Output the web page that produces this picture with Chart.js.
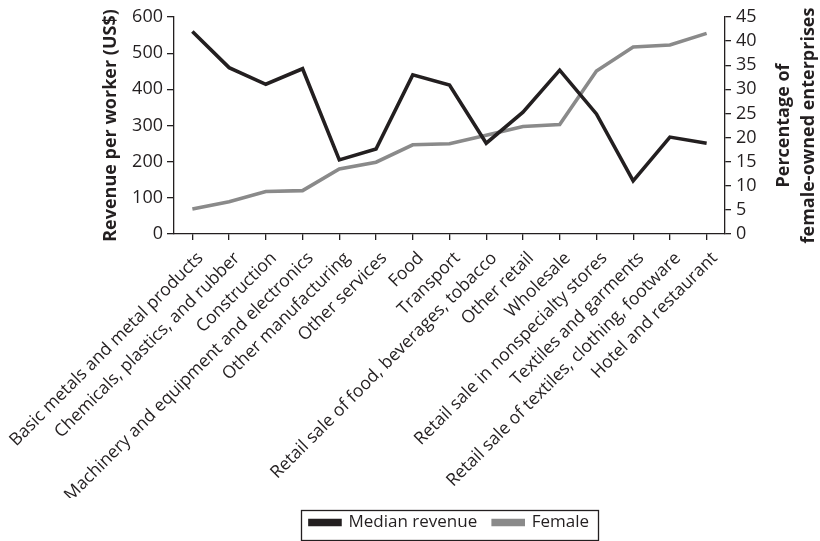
<!DOCTYPE html>
<html>
<head>
<meta charset="utf-8">
<script src="https://cdn.jsdelivr.net/npm/chart.js@4"></script>
<style>
  html,body{margin:0;padding:0;background:#fff}
  #wrap{width:820px;height:541px}
</style>
</head>
<body>
<div id="wrap"><canvas id="chart" width="820" height="541"></canvas></div>
<script>
const categories=['Basic metals and metal products','Chemicals, plastics, and rubber','Construction','Machinery and equipment and electronics','Other manufacturing','Other services','Food','Transport','Retail sale of food, beverages, tobacco','Other retail','Wholesale','Retail sale in nonspecialty stores','Textiles and garments','Retail sale of textiles, clothing, footware','Hotel and restaurant'];
const medianRevenue=[560,460,414,457,205,235,440,412,251,337,453,332,147,268,251];
const femaleShare=[5.2,6.7,8.8,9.0,13.5,14.9,18.5,18.7,20.5,22.3,22.7,33.8,38.8,39.2,41.6];
const leftTitle='Revenue per worker (US$)';
const rightTitle=['Percentage of','female-owned enterprises'];
const seriesNames=['Median revenue','Female'];

const ink='#231f20', grey='#8a8a8a';
const FONT='"Open Sans", "Noto Sans", sans-serif';

// right axis title reads bottom-to-top, and the legend gets a frame
const extras={
  id:'extras',
  afterDraw(chart){
    const ctx=chart.ctx, area=chart.chartArea, r=chart.scales.yRight;
    ctx.save();
    ctx.fillStyle=ink;
    ctx.font='bold 18px '+FONT;
    ctx.textAlign='center';ctx.textBaseline='middle';
    const cy=(area.top+area.bottom)/2;
    rightTitle.forEach((line,i)=>{
      ctx.save();
      ctx.translate(r.right-36+i*25,cy);
      ctx.rotate(-Math.PI/2);
      ctx.fillText(line,0,0);
      ctx.restore();
    });
    const boxes=chart.legend.legendHitBoxes;
    if(boxes&&boxes.length){
      const l=Math.min(...boxes.map(b=>b.left)), rr=Math.max(...boxes.map(b=>b.left+b.width));
      const t=Math.min(...boxes.map(b=>b.top)), bt=Math.max(...boxes.map(b=>b.top+b.height));
      ctx.strokeStyle=ink;ctx.lineWidth=1.3;
      ctx.strokeRect(Math.round(l-9)+0.5,Math.round(t-4)+0.5,Math.round(rr-l+18),Math.round(bt-t+13));
    }
    ctx.restore();
  }
};

new Chart(document.getElementById('chart'),{
  type:'line',
  data:{
    labels:categories,
    datasets:[
      {label:seriesNames[0],data:medianRevenue,yAxisID:'yLeft',borderColor:ink,backgroundColor:ink,borderWidth:3.6,pointRadius:0,tension:0,borderJoinStyle:'miter'},
      {label:seriesNames[1],data:femaleShare,yAxisID:'yRight',borderColor:grey,backgroundColor:grey,borderWidth:3.6,pointRadius:0,tension:0,borderJoinStyle:'miter'}
    ]
  },
  options:{
    responsive:false,animation:false,
    layout:{padding:{top:17,left:0,right:0,bottom:0}},
    plugins:{
      legend:{
        position:'bottom',fullSize:false,
        labels:{color:ink,font:{family:FONT,size:17},boxWidth:30,boxHeight:4,padding:16}
      },
      tooltip:{enabled:false}
    },
    scales:{
      x:{
        offset:true,
        grid:{display:true,drawOnChartArea:false,tickLength:6,color:ink,lineWidth:1.3},
        border:{color:ink,width:1.3},
        ticks:{color:ink,font:{family:FONT,size:17.5},autoSkip:false,maxRotation:45,minRotation:45,padding:8,labelOffset:8},
        afterFit(s){s.height=264;s.paddingLeft=0;s.paddingRight=0;}
      },
      yLeft:{
        position:'left',min:0,max:600,
        grid:{display:true,drawOnChartArea:false,tickLength:7,color:ink,lineWidth:1.3},
        border:{color:ink,width:1.3},
        ticks:{stepSize:100,autoSkip:false,color:ink,font:{family:FONT,size:18},padding:4},
        title:{display:true,text:leftTitle,color:ink,font:{family:FONT,size:18,weight:'bold'},padding:{top:100,bottom:0}},
        afterFit(s){s.width=174;}
      },
      yRight:{
        position:'right',min:0,max:45,
        grid:{display:true,drawOnChartArea:false,tickLength:6,color:ink,lineWidth:1.3},
        border:{color:ink,width:1.3},
        ticks:{stepSize:5,autoSkip:false,color:ink,font:{family:FONT,size:18},padding:5},
        afterFit(s){s.width=95;}
      }
    }
  },
  plugins:[extras]
});
</script>
</body>
</html>
